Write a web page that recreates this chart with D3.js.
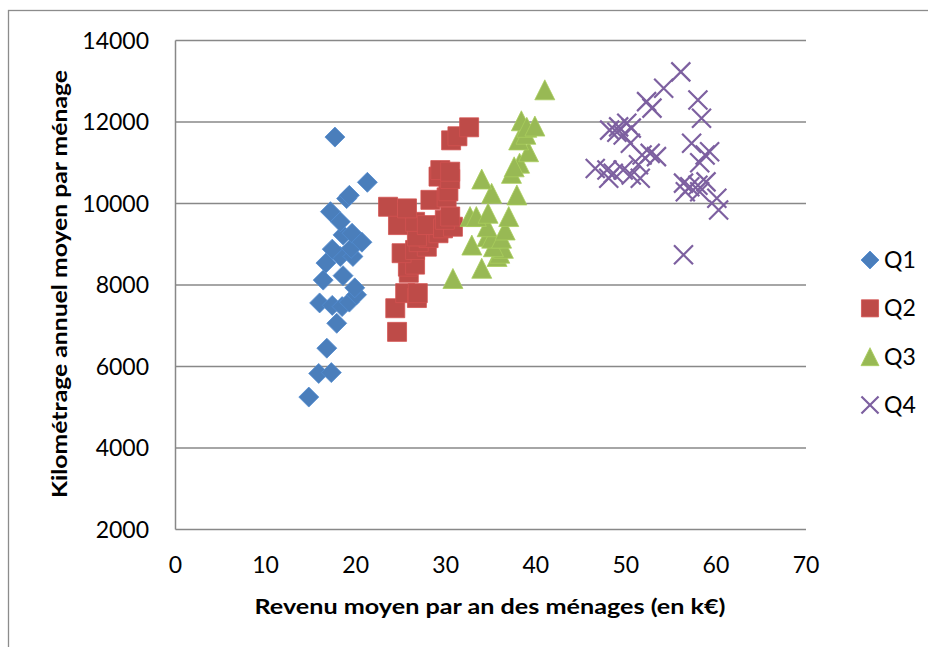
<!DOCTYPE html>
<html>
<head>
<meta charset="utf-8">
<script src="https://cdn.jsdelivr.net/npm/d3@7"></script>
<style>
html,body{margin:0;padding:0;background:#fff;}
svg{display:block;}
text{font-family:Lato,"Open Sans",sans-serif;fill:#000;}
</style>
</head>
<body>
<svg id="chart" width="928" height="647"></svg>
<script>
// ---- data ----
const seriesNames = ["Q1", "Q2", "Q3", "Q4"];
const q1 = [[14.8,5250],[15.9,5830],[17.3,5850],[16.8,6450],[17.9,7060],[16.0,7560],[17.4,7500],[18.5,7470],[19.3,7580],[20.1,7760],[19.9,7930],[16.4,8120],[18.6,8230],[16.7,8540],[18.3,8700],[19.7,8700],[17.4,8880],[19.5,8900],[18.6,9230],[19.6,9270],[20.7,9050],[18.3,9550],[17.2,9800],[19.0,10120],[19.3,10200],[21.3,10520],[17.7,11630]];
const q2 = [[24.6,6850],[24.4,7430],[25.5,7800],[26.8,7680],[26.9,7800],[25.9,8300],[25.8,8450],[26.6,8500],[25.1,8780],[26.6,8860],[27.9,8940],[27.0,9050],[28.1,9150],[29.2,9270],[26.8,9190],[24.7,9470],[26.6,9550],[27.9,9470],[29.7,9390],[30.8,9430],[29.9,9600],[30.5,9680],[23.6,9920],[25.7,9880],[28.3,10090],[30.1,10150],[30.3,10300],[29.2,10660],[30.5,10600],[29.4,10820],[30.5,10780],[30.6,11550],[31.3,11650],[32.6,11870]];
const q3 = [[30.8,8160],[34.0,8410],[35.7,8700],[36.0,8780],[36.4,8900],[32.9,8980],[35.3,8940],[34.6,9190],[35.1,9150],[36.2,9150],[36.6,9350],[34.6,9430],[32.7,9680],[33.4,9680],[34.7,9760],[37.0,9680],[35.1,10250],[37.9,10210],[34.0,10600],[37.3,10740],[38.2,10990],[37.6,10900],[39.2,11270],[38.1,11560],[38.9,11700],[38.4,12030],[39.0,11870],[39.9,11900],[41.0,12790]];
const q4 = [[46.6,10860],[47.9,10820],[48.6,10740],[48.1,10620],[49.7,10820],[50.6,10700],[51.6,10620],[51.4,10950],[51.8,11190],[52.7,11230],[53.4,11150],[48.2,11800],[49.2,11880],[50.1,11970],[50.6,11850],[49.7,11680],[49.0,11750],[50.5,11480],[52.3,12500],[52.9,12340],[54.2,12830],[56.1,13230],[58.0,12540],[58.4,12090],[57.3,11480],[59.3,11270],[58.8,11190],[58.2,11000],[56.4,10500],[57.1,10410],[58.0,10450],[58.9,10530],[56.6,10290],[58.2,10290],[60.1,10130],[60.3,9840],[56.4,8740]];
const xTicks = [0,10,20,30,40,50,60,70];
const yTicks = [2000,4000,6000,8000,10000,12000,14000];
const xTitle = "Revenu moyen par an des ménages (en k€)";
const yTitle = "Kilométrage annuel moyen par ménage";

// ---- layout ----
const svg = d3.select("#chart");
const plot = {left:175.5, right:806, top:40.5, bottom:529.5};
const x = d3.scaleLinear().domain([0,70]).range([plot.left, plot.right]);
const y = d3.scaleLinear().domain([2000,14000]).range([plot.bottom, plot.top]);
const colors = {Q1:"#4A7EBB", Q2:"#BE4B48", Q3:"#98B954", Q4:"#7D60A0"};
const data = {Q1:q1, Q2:q2, Q3:q3, Q4:q4};

// outer frame
svg.append("rect").attr("x",8.5).attr("y",10.5).attr("width",940).attr("height",660)
  .attr("fill","none").attr("stroke","#8c8c8c").attr("stroke-width",1.3);

// gridlines
svg.append("g").selectAll("line").data(yTicks.filter(d=>d>2000)).join("line")
  .attr("x1",plot.left).attr("x2",plot.right)
  .attr("y1",d=>y(d)).attr("y2",d=>y(d))
  .attr("stroke","#888").attr("stroke-width",1.5);

// axes lines
svg.append("line").attr("x1",x(0)).attr("x2",x(0)).attr("y1",plot.top).attr("y2",plot.bottom)
  .attr("stroke","#888").attr("stroke-width",1.5);
svg.append("line").attr("x1",plot.left).attr("x2",plot.right).attr("y1",y(2000)).attr("y2",y(2000))
  .attr("stroke","#888").attr("stroke-width",1.5);

// tick labels
svg.append("g").selectAll("text").data(yTicks).join("text")
  .attr("x",149).attr("y",d=>y(d)+8).attr("text-anchor","end")
  .style("font-size","23px").text(d=>d);
svg.append("g").selectAll("text").data(xTicks).join("text")
  .attr("x",d=>x(d)).attr("y",573).attr("text-anchor","middle")
  .style("font-size","23px").text(d=>d);

// axis titles
svg.append("text").attr("x",490).attr("y",614).attr("text-anchor","middle")
  .style("font-size","21px").style("font-weight","bold")
  .attr("textLength",471).attr("lengthAdjust","spacingAndGlyphs").text(xTitle);
svg.append("text").attr("transform","translate(67,284) rotate(-90)").attr("text-anchor","middle")
  .style("font-size","21px").style("font-weight","bold")
  .attr("textLength",428).attr("lengthAdjust","spacingAndGlyphs").text(yTitle);

// marker path generators
function markerPath(name, s){
  const h = s/2;
  if(name==="Q1") return `M0,${-h}L${h},0L0,${h}L${-h},0Z`;
  if(name==="Q2") { const a=h*0.95; return `M${-a},${-a}H${a}V${a}H${-a}Z`; }
  if(name==="Q3") return `M0,${-h}L${h},${h}L${-h},${h}Z`;
  const a=h*0.95; return `M${-a},${-a}L${a},${a}M${a},${-a}L${-a},${a}`;
}
function styleMarker(sel, name){
  if(name==="Q4") sel.attr("fill","none").attr("stroke",colors[name]).attr("stroke-width",2.2);
  else sel.attr("fill",colors[name]).attr("stroke",d3.color(colors[name]).brighter(0.3)).attr("stroke-width",0.8);
}

seriesNames.forEach(name=>{
  const g = svg.append("g");
  const sel = g.selectAll("path").data(data[name]).join("path")
    .attr("d", markerPath(name, 20))
    .attr("transform", d=>`translate(${x(d[0])},${y(d[1])})`);
  styleMarker(sel, name);
});

// legend
const legendY = d3.scalePoint().domain(seriesNames).range([260,405]);
const leg = svg.append("g");
seriesNames.forEach(name=>{
  const m = leg.append("path").datum(name).attr("d", markerPath(name, 18))
    .attr("transform", `translate(870,${legendY(name)})`);
  styleMarker(m, name);
  leg.append("text").attr("x",884).attr("y",legendY(name)+8).style("font-size","23px").text(name);
});
</script>
</body>
</html>
